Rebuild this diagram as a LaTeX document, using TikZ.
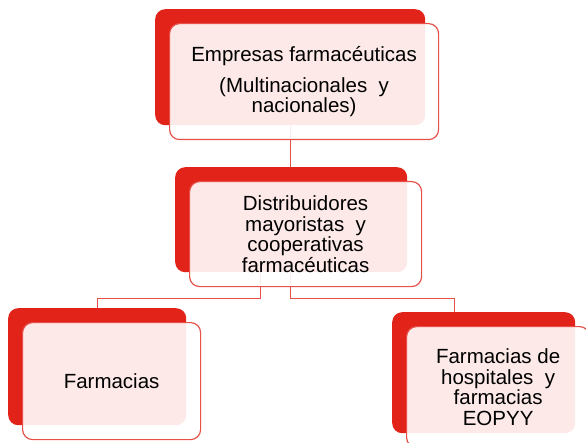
\documentclass[tikz,border=0pt]{standalone}
\usepackage{fontspec}
\setmainfont{Liberation Sans}
\usepackage{tikz}
\usetikzlibrary{backgrounds}
\definecolor{boxred}{RGB}{226,35,26}
\definecolor{edgered}{RGB}{230,80,72}

\begin{document}
\begin{tikzpicture}[x=1bp,y=-1bp]
  \tikzstyle{back}=[rectangle,rounded corners=10bp,fill=boxred,anchor=north west,inner sep=0]
  \tikzstyle{front}=[rectangle,rounded corners=10bp,draw=edgered,line width=1.2bp,fill=white,fill opacity=0.9,text opacity=1,anchor=north west,align=center,inner sep=0,font=\fontsize{20.5bp}{20.5bp}\selectfont]
  \tikzstyle{link}=[draw=edgered,line width=1bp]
  \useasboundingbox (0,0) rectangle (586,443);
  \node(top-back) at (155,9)[back,minimum width=270bp,minimum height=116bp]{};
  \node(top-front) at (169,23)[front,minimum width=269bp,minimum height=116bp,font=\fontsize{20.5bp}{19bp}\selectfont]{Empresas farmacéuticas\\[11bp](Multinacionales\ \ y\\nacionales)};
  \node(mid-back) at (175,167)[back,minimum width=232bp,minimum height=105bp]{};
  \node(mid-front) at (189,181)[front,minimum width=232bp,minimum height=105bp]{Distribuidores\\mayoristas\ \ y\\cooperativas\\farmacéuticas};
  \node(left-back) at (8,308)[back,minimum width=178bp,minimum height=117bp]{};
  \node(left-front) at (22,322)[front,minimum width=178bp,minimum height=117bp]{Farmacias};
  \node(right-back) at (392,312)[back,minimum width=183bp,minimum height=121bp]{};
  \node(right-front) at (406,326)[front,minimum width=183bp,minimum height=121bp]{Farmacias de\\hospitales\ \ y\\farmacias\\EOPYY};
  \coordinate(split-l) at (260,298);
  \coordinate(split-r) at (290,298);
  \coordinate(drop-r) at (454,298);
  \begin{pgfonlayer}{background}
    \draw[link](top-back.south -| split-r)--(mid-back.north -| split-r);
    \draw[link](mid-back.south -| split-l)--(split-l)-|(left-back.north);
    \draw[link](mid-back.south -| split-r)--(split-r)--(drop-r)--(drop-r |- right-back.north);
  \end{pgfonlayer}
\end{tikzpicture}
\end{document}
